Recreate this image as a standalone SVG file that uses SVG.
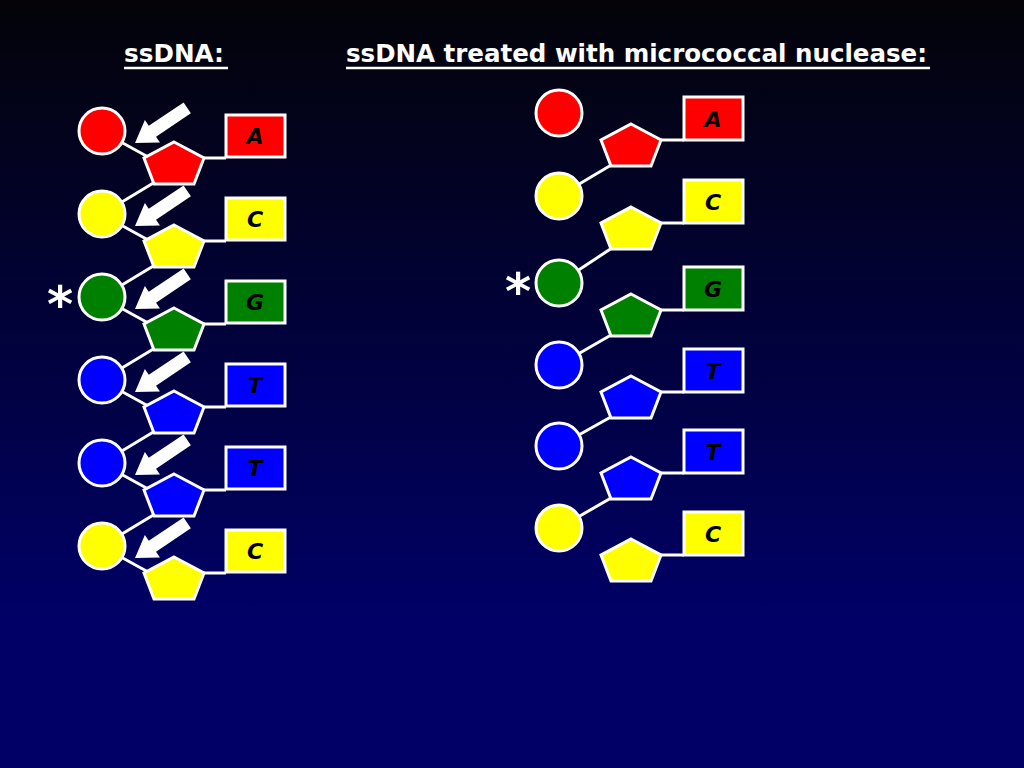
<svg xmlns="http://www.w3.org/2000/svg" width="1024" height="768" viewBox="0 0 1024 768">
<defs>
<linearGradient id="bg" x1="0" y1="0" x2="0" y2="768" gradientUnits="userSpaceOnUse">
<stop offset="0" stop-color="#030308"/>
<stop offset="0.8" stop-color="#000066"/>
<stop offset="1" stop-color="#000066"/>
</linearGradient>
<path id="arrow" d="M0,0 L21,-13.5 L21,-6.5 L63,-6.5 L63,6.5 L21,6.5 L21,13.5 Z"/>
<polygon id="pentL" points="0,11 30,27 20,53 -20,53 -30,27"/>
</defs>
<style>
.title{font-family:"DejaVu Sans","Liberation Sans",sans-serif;font-size:24px;font-weight:bold;fill:#fff}
.ul{stroke:#fff;stroke-width:2.5}
.shape{stroke:#fff;stroke-width:3}
.link{stroke:#fff;stroke-width:3;fill:none}
.base{font-family:"DejaVu Sans","Liberation Sans",sans-serif;font-size:22px;font-weight:bold;font-style:italic;fill:#000;text-anchor:middle}
.star{font-family:"DejaVu Sans","Liberation Sans",sans-serif;font-size:50px;font-weight:bold;fill:#fff;text-anchor:middle}
.arr{fill:#fff}
.r{fill:#ff0000}.y{fill:#ffff00}.g{fill:#008000}.b{fill:#0000ff}
</style>
<rect width="1024" height="768" fill="url(#bg)"/>
<g id="titles">
<text class="title" x="124" y="62" textLength="100" lengthAdjust="spacingAndGlyphs">ssDNA:</text>
<line class="ul" x1="124" y1="68" x2="228" y2="68"/>
<text class="title" x="346" y="62" textLength="581" lengthAdjust="spacingAndGlyphs">ssDNA treated with micrococcal nuclease:</text>
<line class="ul" x1="346" y1="68" x2="930" y2="68"/>
</g>
<g id="connectors">
<line class="link" x1="110" y1="136" x2="150" y2="158"/>
<line class="link" x1="110" y1="219" x2="150" y2="241"/>
<line class="link" x1="110" y1="302" x2="150" y2="324"/>
<line class="link" x1="110" y1="385" x2="150" y2="407"/>
<line class="link" x1="110" y1="468" x2="150" y2="490"/>
<line class="link" x1="110" y1="551" x2="150" y2="573"/>
<line class="link" x1="200" y1="158" x2="226" y2="158"/>
<line class="link" x1="200" y1="241" x2="226" y2="241"/>
<line class="link" x1="200" y1="324" x2="226" y2="324"/>
<line class="link" x1="200" y1="407" x2="226" y2="407"/>
<line class="link" x1="200" y1="490" x2="226" y2="490"/>
<line class="link" x1="200" y1="573" x2="226" y2="573"/>
<line class="link" x1="160" y1="179" x2="102" y2="214"/>
<line class="link" x1="160" y1="262" x2="102" y2="297"/>
<line class="link" x1="160" y1="345" x2="102" y2="380"/>
<line class="link" x1="160" y1="428" x2="102" y2="463"/>
<line class="link" x1="160" y1="511" x2="102" y2="546"/>
<line class="link" x1="658" y1="140" x2="684" y2="140"/>
<line class="link" x1="658" y1="223" x2="684" y2="223"/>
<line class="link" x1="658" y1="310" x2="684" y2="310"/>
<line class="link" x1="658" y1="392" x2="684" y2="392"/>
<line class="link" x1="658" y1="473" x2="684" y2="473"/>
<line class="link" x1="658" y1="555" x2="684" y2="555"/>
<line class="link" x1="618" y1="161" x2="559" y2="196"/>
<line class="link" x1="618" y1="244" x2="559" y2="283"/>
<line class="link" x1="618" y1="331" x2="559" y2="365"/>
<line class="link" x1="618" y1="413" x2="559" y2="446"/>
<line class="link" x1="618" y1="494" x2="559" y2="528"/>
</g>
<g id="left-n1"><circle class="shape r" cx="102" cy="131" r="23"/><use href="#pentL" class="shape r" x="174" y="131"/><rect class="shape r" x="226" y="115" width="59" height="42"/><text class="base" x="255" y="144">A</text></g>
<g id="left-n2"><circle class="shape y" cx="102" cy="214" r="23"/><use href="#pentL" class="shape y" x="174" y="214"/><rect class="shape y" x="226" y="198" width="59" height="42"/><text class="base" x="255" y="227">C</text></g>
<g id="left-n3"><circle class="shape g" cx="102" cy="297" r="23"/><use href="#pentL" class="shape g" x="174" y="297"/><rect class="shape g" x="226" y="281" width="59" height="42"/><text class="base" x="255" y="310">G</text></g>
<g id="left-n4"><circle class="shape b" cx="102" cy="380" r="23"/><use href="#pentL" class="shape b" x="174" y="380"/><rect class="shape b" x="226" y="364" width="59" height="42"/><text class="base" x="255" y="393">T</text></g>
<g id="left-n5"><circle class="shape b" cx="102" cy="463" r="23"/><use href="#pentL" class="shape b" x="174" y="463"/><rect class="shape b" x="226" y="447" width="59" height="42"/><text class="base" x="255" y="476">T</text></g>
<g id="left-n6"><circle class="shape y" cx="102" cy="546" r="23"/><use href="#pentL" class="shape y" x="174" y="546"/><rect class="shape y" x="226" y="530" width="59" height="42"/><text class="base" x="255" y="559">C</text></g>
<g id="arrows">
<use href="#arrow" class="arr" transform="translate(135,143) rotate(-34)"/>
<use href="#arrow" class="arr" transform="translate(135,226) rotate(-34)"/>
<use href="#arrow" class="arr" transform="translate(135,309) rotate(-34)"/>
<use href="#arrow" class="arr" transform="translate(135,392) rotate(-34)"/>
<use href="#arrow" class="arr" transform="translate(135,475) rotate(-34)"/>
<use href="#arrow" class="arr" transform="translate(135,558) rotate(-34)"/>
</g>
<g id="right-n1"><circle class="shape r" cx="559" cy="113" r="23"/><use href="#pentL" class="shape r" x="631" y="113"/><rect class="shape r" x="684" y="97" width="59" height="43"/><text class="base" x="713" y="127">A</text></g>
<g id="right-n2"><circle class="shape y" cx="559" cy="196" r="23"/><use href="#pentL" class="shape y" x="631" y="196"/><rect class="shape y" x="684" y="180" width="59" height="43"/><text class="base" x="713" y="210">C</text></g>
<g id="right-n3"><circle class="shape g" cx="559" cy="283" r="23"/><use href="#pentL" class="shape g" x="631" y="283"/><rect class="shape g" x="684" y="267" width="59" height="43"/><text class="base" x="713" y="297">G</text></g>
<g id="right-n4"><circle class="shape b" cx="559" cy="365" r="23"/><use href="#pentL" class="shape b" x="631" y="365"/><rect class="shape b" x="684" y="349" width="59" height="43"/><text class="base" x="713" y="379">T</text></g>
<g id="right-n5"><circle class="shape b" cx="559" cy="446" r="23"/><use href="#pentL" class="shape b" x="631" y="446"/><rect class="shape b" x="684" y="430" width="59" height="43"/><text class="base" x="713" y="460">T</text></g>
<g id="right-n6"><circle class="shape y" cx="559" cy="528" r="23"/><use href="#pentL" class="shape y" x="631" y="528"/><rect class="shape y" x="684" y="512" width="59" height="43"/><text class="base" x="713" y="542">C</text></g>
<g id="stars">
<text class="star" x="60" y="322">*</text>
<text class="star" x="518" y="309">*</text>
</g>
</svg>
